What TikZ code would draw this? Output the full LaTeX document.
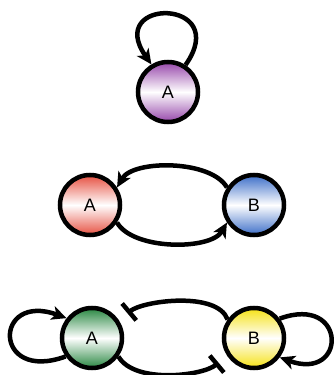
\documentclass[tikz,border=0pt]{standalone}
\usepackage{fontspec}
\setmainfont{Liberation Sans}
\usepackage{tikz}
\usetikzlibrary{arrows.meta}
\definecolor{genepurple}{RGB}{150,70,170}
\definecolor{genered}{RGB}{230,80,65}
\definecolor{geneblue}{RGB}{60,110,200}
\definecolor{genegreen}{RGB}{40,135,65}
\definecolor{geneyellow}{RGB}{245,225,20}
\newcommand{\genefont}{\fontsize{18pt}{21pt}\selectfont}
\tikzset{
  gene/.style={circle, draw, line width=4.5pt, minimum size=60pt, inner sep=0pt,
    top color=#1, bottom color=#1, middle color=white,
    font=\genefont, text=black},
  act/.style={line width=4.5pt, -{Stealth[length=15pt, width=14pt, inset=4pt]}},
  inh/.style={line width=4.5pt, -{Bar[width=22pt]}, shorten >=11pt}
}

\begin{document}
\begin{tikzpicture}[x=1pt, y=1pt]
\useasboundingbox (0,0) rectangle (336,375);
% self activation
\node[gene=genepurple](selfA) at (168,283) {A};
\draw[act](selfA.57) .. controls +(55:82) and +(125:82) .. (selfA.121);
% mutual activation
\node[gene=genered](actA) at (90,170) {A};
\node[gene=geneblue](actB) at (254,170) {B};
%
\draw[act](actB.147) to[out=120, in=60, looseness=0.75] (actA.33);
\draw[act](actA.-33) to[out=-60, in=-120, looseness=0.75] (actB.-147);
% mutual inhibition with self activation
\node[gene=genegreen](togA) at (92,37) {A};
\node[gene=geneyellow](togB) at (254,37) {B};
%
\draw[act](togA.215) .. controls +(200:78) and +(160:78) .. (togA.142);
\draw[act](togB.37) .. controls +(20:72) and +(-20:72) .. (togB.-37);
\draw[inh](togB.145) to[out=110, in=40, looseness=0.72] (togA.33);
\draw[inh](togA.-35) to[out=-60, in=-140, looseness=0.75] (togB.-147);
\end{tikzpicture}
\end{document}
